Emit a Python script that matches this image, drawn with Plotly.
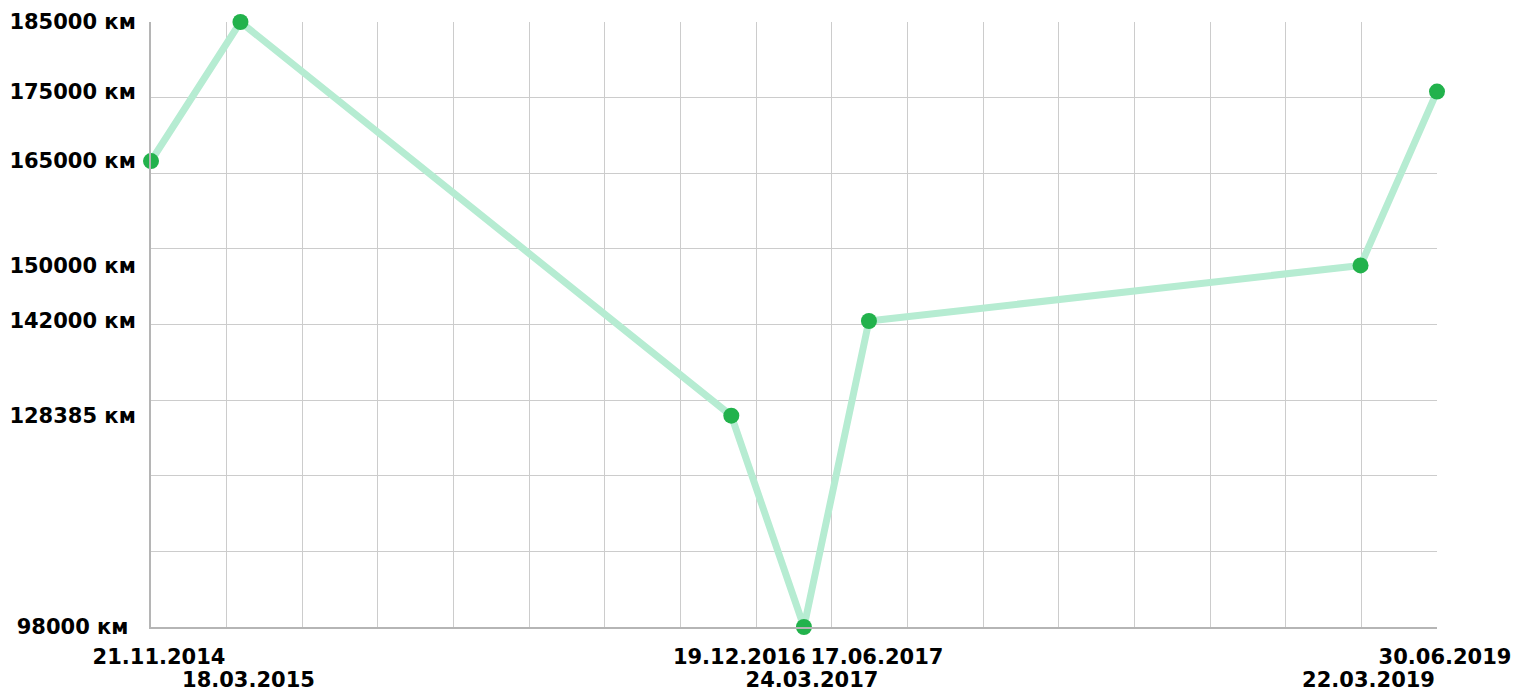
import pandas as pd
import plotly.graph_objects as go

dates = ["2014-11-21", "2015-03-18", "2016-12-19", "2017-03-24", "2017-06-17", "2019-03-22", "2019-06-30"]
date_labels = ["21.11.2014", "18.03.2015", "19.12.2016", "24.03.2017", "17.06.2017", "22.03.2019", "30.06.2019"]
mileage = [165000, 185000, 128385, 98000, 142000, 150000, 175000]
mileage_labels = ["165000 км", "185000 км", "128385 км", "98000 км ", "142000 км", "150000 км", "175000 км"]

x = pd.to_datetime(dates)
xmin, xmax = x.min(), x.max()
ymin, ymax = min(mileage), max(mileage)

x_grid = list(pd.date_range(xmin, xmax, periods=18))
y_step = (ymax - ymin) / 8
y_grid = [ymin + i * y_step for i in range(9)]

tickfont = dict(family="DejaVu Sans", size=21, color="#000", weight="bold")

x_row1 = [d for i, d in enumerate(x) if i % 2 == 0]
t_row1 = [l for i, l in enumerate(date_labels) if i % 2 == 0]
x_row2 = [d for i, d in enumerate(x) if i % 2 == 1]
t_row2 = [l for i, l in enumerate(date_labels) if i % 2 == 1]

fig = go.Figure()
# invisible traces for helper axes
fig.add_trace(go.Scatter(x=[xmin, xmax], y=[ymin, ymax], xaxis="x2", yaxis="y2",
                         mode="markers", marker=dict(opacity=0), hoverinfo="skip", showlegend=False))
fig.add_trace(go.Scatter(x=[xmin, xmax], y=[ymin, ymax], xaxis="x3", yaxis="y2",
                         mode="markers", marker=dict(opacity=0), hoverinfo="skip", showlegend=False))
fig.add_trace(go.Scatter(
    x=x, y=mileage, mode="lines+markers",
    line=dict(color="#b6ecd2", width=7),
    marker=dict(color="#22b24c", size=16),
    cliponaxis=False, showlegend=False,
))

fig.update_layout(
    width=1515, height=691,
    margin=dict(l=151, r=78, t=22, b=64),
    plot_bgcolor="white", paper_bgcolor="white",
    font=dict(family="DejaVu Sans", size=21, color="#000"),
    xaxis=dict(
        type="date", range=[xmin, xmax], tickmode="array", tickvals=x_row1, ticktext=t_row1,
        showgrid=False, zeroline=False, showline=True, linecolor="#b5b5b5", linewidth=2,
        ticks="", tickfont=tickfont, automargin=False,
        tickangle=0, ticklabelshift=8, ticklabelstandoff=10,
    ),
    xaxis3=dict(
        type="date", range=[xmin, xmax], overlaying="x", side="bottom", anchor="y",
        tickmode="array", tickvals=x_row2, ticktext=t_row2,
        showgrid=False, zeroline=False, showline=False,
        ticks="", tickfont=tickfont, automargin=False,
        tickangle=0, ticklabelshift=8, ticklabelstandoff=38,
    ),
    yaxis=dict(
        range=[ymin, ymax], tickmode="array", tickvals=mileage, ticktext=mileage_labels,
        showgrid=False, zeroline=False, showline=True, linecolor="#b5b5b5", linewidth=2,
        ticks="", tickfont=tickfont, automargin=False,
        ticklabelstandoff=9,
    ),
    xaxis2=dict(
        type="date", range=[xmin, xmax], overlaying="x", tickmode="array", tickvals=x_grid,
        showticklabels=False, showgrid=True, gridcolor="#cccccc", gridwidth=1, zeroline=False,
        showline=False, ticks="", layer="below traces",
    ),
    yaxis2=dict(
        range=[ymin, ymax], overlaying="y", tickmode="array", tickvals=y_grid,
        showticklabels=False, showgrid=True, gridcolor="#cccccc", gridwidth=1, zeroline=False,
        showline=False, ticks="", layer="below traces",
    ),
)

fig.write_html(
    "out.html",
    config={"displayModeBar": False},
    post_script="document.body.style.margin='0';document.body.style.overflow='hidden';",
)
